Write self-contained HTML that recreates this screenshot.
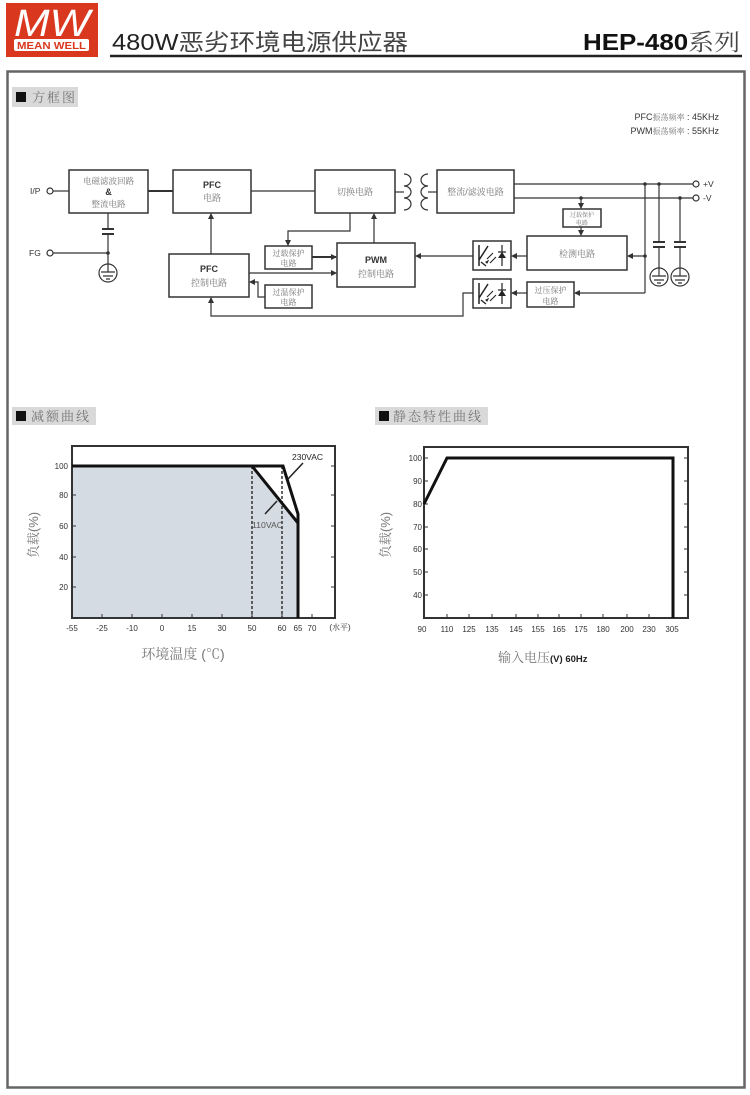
<!DOCTYPE html>
<html><head><meta charset="utf-8"><style>
html,body{margin:0;padding:0;background:#fff;}
svg{display:block;}
text{font-family:"Liberation Sans","Noto Sans CJK SC",sans-serif;}
.cj{font-family:"Liberation Sans","Noto Serif CJK SC",serif;fill:#777;}
.bx{fill:#fff;stroke:#333;stroke-width:1.5;}
.ln{stroke:#333;stroke-width:1.2;fill:none;}
.tk{stroke:#333;stroke-width:1;}
.ax{font-size:8px;fill:#333;text-anchor:middle;}
.ay{font-size:8px;fill:#333;text-anchor:end;}
</style></head><body>
<svg width="750" height="1095" viewBox="0 0 750 1095" xmlns="http://www.w3.org/2000/svg">
<defs>
<marker id="ar" markerWidth="6" markerHeight="6" refX="5" refY="3" orient="auto" markerUnits="userSpaceOnUse">
<path d="M0,0 L6,3 L0,6 z" fill="#333"/></marker>
</defs>
<!-- header -->
<rect x="6" y="3" width="92" height="54" fill="#d9381e"/>
<text x="52" y="36" font-size="38" font-style="italic" fill="#fff" text-anchor="middle" textLength="76" lengthAdjust="spacingAndGlyphs">MW</text>
<rect x="14" y="39" width="75" height="12" rx="2" fill="#fff"/>
<text x="51.5" y="49" font-size="10" font-weight="bold" fill="#d9381e" text-anchor="middle" textLength="69" lengthAdjust="spacingAndGlyphs">MEAN WELL</text>
<text x="112" y="50" font-size="23" fill="#222" textLength="296" lengthAdjust="spacingAndGlyphs">480W<tspan fill="#444" style="font-family:'Noto Sans CJK SC',sans-serif">恶劣环境电源供应器</tspan></text>
<text x="583" y="50" font-size="23" font-weight="bold" fill="#111" textLength="157" lengthAdjust="spacingAndGlyphs">HEP-480<tspan font-weight="normal" fill="#444" style="font-family:'Noto Serif CJK SC',serif">系列</tspan></text>
<line x1="110" y1="56" x2="742" y2="56" stroke="#222" stroke-width="2.5"/>
<!-- frame -->
<rect x="7.5" y="71.5" width="737" height="1016" fill="none" stroke="#666" stroke-width="2.5"/>

<!-- section label 1 -->
<rect x="12" y="87" width="66" height="20" fill="#d9d9d9"/>
<rect x="16" y="92" width="10" height="10" fill="#111"/>
<text x="32" y="102" font-size="13" class="cj" letter-spacing="2">方框图</text>

<text x="719" y="120" font-size="9" fill="#333" text-anchor="end">PFC<tspan class="cj" font-size="8">振荡频率</tspan> : 45KHz</text>
<text x="719" y="134" font-size="9" fill="#333" text-anchor="end">PWM<tspan class="cj" font-size="8">振荡频率</tspan> : 55KHz</text>

<!-- blocks -->
<rect class="bx" x="69" y="170" width="79" height="43"/>
<text x="108.5" y="184" font-size="8.5" class="cj" text-anchor="middle">电磁滤波回路</text>
<text x="108.5" y="195" font-size="9" font-weight="bold" fill="#333" text-anchor="middle">&amp;</text>
<text x="108.5" y="207" font-size="8.5" class="cj" text-anchor="middle">整流电路</text>

<rect class="bx" x="173" y="170" width="78" height="43"/>
<text x="212" y="188" font-size="9" font-weight="bold" fill="#333" text-anchor="middle">PFC</text>
<text x="212" y="201" font-size="9" class="cj" text-anchor="middle">电路</text>

<rect class="bx" x="315" y="170" width="80" height="43"/>
<text x="355" y="195" font-size="9" class="cj" text-anchor="middle">切换电路</text>

<rect class="bx" x="437" y="170" width="77" height="43"/>
<text x="475.5" y="195" font-size="9" class="cj" text-anchor="middle">整流/滤波电路</text>

<rect class="bx" x="169" y="254" width="80" height="43"/>
<text x="209" y="272" font-size="9" font-weight="bold" fill="#333" text-anchor="middle">PFC</text>
<text x="209" y="286" font-size="9" class="cj" text-anchor="middle">控制电路</text>

<rect class="bx" x="265" y="246" width="47" height="23"/>
<text x="288.5" y="256" font-size="8" class="cj" text-anchor="middle">过载保护</text>
<text x="288.5" y="266" font-size="8" class="cj" text-anchor="middle">电路</text>

<rect class="bx" x="265" y="285" width="47" height="23"/>
<text x="288.5" y="295" font-size="8" class="cj" text-anchor="middle">过温保护</text>
<text x="288.5" y="305" font-size="8" class="cj" text-anchor="middle">电路</text>

<rect class="bx" x="337" y="243" width="78" height="44"/>
<text x="376" y="263" font-size="9" font-weight="bold" fill="#333" text-anchor="middle">PWM</text>
<text x="376" y="277" font-size="9" class="cj" text-anchor="middle">控制电路</text>

<rect class="bx" x="563" y="209" width="38" height="18"/>
<text x="582" y="217" font-size="6" class="cj" text-anchor="middle">过载保护</text>
<text x="582" y="225" font-size="6" class="cj" text-anchor="middle">电路</text>

<rect class="bx" x="527" y="236" width="100" height="34"/>
<text x="577" y="257" font-size="9" class="cj" text-anchor="middle">检测电路</text>

<rect class="bx" x="527" y="282" width="47" height="25"/>
<text x="550.5" y="293" font-size="8" class="cj" text-anchor="middle">过压保护</text>
<text x="550.5" y="304" font-size="8" class="cj" text-anchor="middle">电路</text>

<!-- optocouplers -->
<g id="op1">
<rect class="bx" x="473" y="241" width="38" height="29"/>
<line x1="479" y1="245" x2="479" y2="266" stroke="#222" stroke-width="1.5"/>
<line x1="479" y1="260" x2="488" y2="246" stroke="#222" stroke-width="1.5"/>
<line x1="481" y1="262" x2="486" y2="266" stroke="#222" stroke-width="1.3"/>
<path d="M487,259 l6,-6 M486,262 l2,-1 l-1,2z M490,263 l6,-6" stroke="#222" stroke-width="1.1" fill="#222"/>
<line x1="502" y1="245" x2="502" y2="266" stroke="#222" stroke-width="1.2"/>
<path d="M498,258 L506,258 L502,252 z" fill="#222"/>
<line x1="498" y1="252" x2="506" y2="252" stroke="#222" stroke-width="1.2"/>
</g>
<use href="#op1" x="0" y="38"/>

<!-- wiring -->
<text x="30" y="194" font-size="8.5" fill="#333">I/P</text>
<circle cx="50" cy="191" r="3" fill="#fff" stroke="#333" stroke-width="1.2"/>
<line class="ln" x1="53" y1="191" x2="69" y2="191"/>
<text x="29" y="256" font-size="8.5" fill="#333">FG</text>
<circle cx="50" cy="253" r="3" fill="#fff" stroke="#333" stroke-width="1.2"/>
<line class="ln" x1="53" y1="253" x2="108" y2="253"/>
<circle cx="108" cy="253" r="1.8" fill="#333"/>
<line class="ln" x1="108" y1="213" x2="108" y2="229"/>
<line x1="102" y1="229" x2="114" y2="229" stroke="#333" stroke-width="2"/>
<line x1="102" y1="234" x2="114" y2="234" stroke="#333" stroke-width="2"/>
<line class="ln" x1="108" y1="234" x2="108" y2="272"/>
<circle cx="108" cy="273" r="9" fill="none" stroke="#333" stroke-width="1.2"/>
<path d="M101,272 h14 M103,276 h10 M106,279 h4" stroke="#333" stroke-width="1.2"/>

<line x1="148" y1="191" x2="173" y2="191" stroke="#333" stroke-width="2"/>
<line class="ln" x1="251" y1="191" x2="315" y2="191"/>
<line class="ln" x1="395" y1="192" x2="404" y2="192"/>
<!-- transformer -->
<path d="M404,174 a7,6 0 0 1 0,12 a7,6 0 0 1 0,12 a7,6 0 0 1 0,12" class="ln" stroke-width="1.6"/>
<path d="M428,174 a7,6 0 0 0 0,12 a7,6 0 0 0 0,12 a7,6 0 0 0 0,12" class="ln" stroke-width="1.6"/>
<line class="ln" x1="428" y1="192" x2="437" y2="192"/>

<line class="ln" x1="514" y1="184" x2="693" y2="184"/>
<line class="ln" x1="514" y1="198" x2="693" y2="198"/>
<circle cx="696" cy="184" r="3" fill="#fff" stroke="#333" stroke-width="1.2"/>
<circle cx="696" cy="198" r="3" fill="#fff" stroke="#333" stroke-width="1.2"/>
<text x="703" y="187" font-size="8.5" fill="#333">+V</text>
<text x="703" y="201" font-size="8.5" fill="#333">-V</text>
<circle cx="645" cy="184" r="1.8" fill="#333"/>
<circle cx="659" cy="184" r="1.8" fill="#333"/>
<circle cx="581" cy="198" r="1.8" fill="#333"/>
<circle cx="680" cy="198" r="1.8" fill="#333"/>

<line class="ln" x1="645" y1="184" x2="645" y2="293"/>
<circle cx="645" cy="256" r="1.8" fill="#333"/>
<line class="ln" x1="645" y1="256" x2="628" y2="256" marker-end="url(#ar)"/>
<line class="ln" x1="645" y1="293" x2="575" y2="293" marker-end="url(#ar)"/>

<line class="ln" x1="659" y1="184" x2="659" y2="242"/>
<line x1="653" y1="242" x2="665" y2="242" stroke="#333" stroke-width="2"/>
<line x1="653" y1="247" x2="665" y2="247" stroke="#333" stroke-width="2"/>
<line class="ln" x1="659" y1="247" x2="659" y2="276"/>
<circle cx="659" cy="277" r="9" fill="none" stroke="#333" stroke-width="1.2"/>
<path d="M652,276 h14 M654,280 h10 M657,283 h4" stroke="#333" stroke-width="1.2"/>

<line class="ln" x1="680" y1="198" x2="680" y2="242"/>
<line x1="674" y1="242" x2="686" y2="242" stroke="#333" stroke-width="2"/>
<line x1="674" y1="247" x2="686" y2="247" stroke="#333" stroke-width="2"/>
<line class="ln" x1="680" y1="247" x2="680" y2="276"/>
<circle cx="680" cy="277" r="9" fill="none" stroke="#333" stroke-width="1.2"/>
<path d="M673,276 h14 M675,280 h10 M678,283 h4" stroke="#333" stroke-width="1.2"/>

<line class="ln" x1="581" y1="198" x2="581" y2="208" marker-end="url(#ar)"/>
<line class="ln" x1="581" y1="227" x2="581" y2="235" marker-end="url(#ar)"/>

<line class="ln" x1="527" y1="256" x2="512" y2="256" marker-end="url(#ar)"/>
<line class="ln" x1="473" y1="256" x2="416" y2="256" marker-end="url(#ar)"/>
<line class="ln" x1="527" y1="293" x2="512" y2="293" marker-end="url(#ar)"/>
<polyline class="ln" points="473,293 463,293 463,316 211,316 211,298" marker-end="url(#ar)"/>

<line class="ln" x1="211" y1="254" x2="211" y2="214" stroke-width="1.5" marker-end="url(#ar)"/>
<polyline class="ln" points="350,213 350,231 288,231 288,245" marker-end="url(#ar)"/>
<line class="ln" x1="374" y1="243" x2="374" y2="214" stroke-width="1.5" marker-end="url(#ar)"/>
<line x1="312" y1="257" x2="336" y2="257" stroke="#333" stroke-width="2" marker-end="url(#ar)"/>
<line class="ln" x1="249" y1="273" x2="336" y2="273" stroke-width="1.5" marker-end="url(#ar)"/>
<polyline class="ln" points="265,297 258,297 258,282 250,282" marker-end="url(#ar)"/>

<!-- section labels 2,3 -->
<rect x="12" y="407" width="84" height="18" fill="#d9d9d9"/>
<rect x="16" y="411" width="10" height="10" fill="#111"/>
<text x="31" y="421" font-size="13" class="cj" letter-spacing="2">减额曲线</text>

<rect x="375" y="407" width="113" height="18" fill="#d9d9d9"/>
<rect x="379" y="411" width="10" height="10" fill="#111"/>
<text x="393" y="421" font-size="13" class="cj" letter-spacing="2">静态特性曲线</text>

<!-- chart 1 -->
<polygon points="73,466 252,466 298,523 298,617 73,617" fill="#d5dbe3"/>
<rect x="72" y="446" width="263" height="172" fill="none" stroke="#333" stroke-width="2"/>
<g class="tk">
<path d="M72,466 h4 M72,495 h4 M72,526 h4 M72,557 h4 M72,587 h4 M335,466 h-4 M335,495 h-4 M335,526 h-4 M335,557 h-4 M335,587 h-4"/>
<path d="M102,618 v-4 M132,618 v-4 M162,618 v-4 M192,618 v-4 M222,618 v-4 M252,618 v-4 M282,618 v-4 M312,618 v-4"/>
</g>
<line x1="252" y1="466" x2="252" y2="618" stroke="#333" stroke-width="1.5" stroke-dasharray="3,2"/>
<line x1="282" y1="466" x2="282" y2="618" stroke="#333" stroke-width="1.5" stroke-dasharray="3,2"/>
<polyline points="72,466 283,466 298,514 298,618" fill="none" stroke="#111" stroke-width="3"/>
<line x1="252" y1="466" x2="298" y2="523" stroke="#111" stroke-width="3"/>
<line x1="303" y1="463" x2="288" y2="479" stroke="#222" stroke-width="1.5"/>
<line x1="265" y1="514" x2="277" y2="501" stroke="#222" stroke-width="1.5"/>
<text x="292" y="460" font-size="8.5" fill="#222" textLength="31" lengthAdjust="spacingAndGlyphs">230VAC</text>
<text x="252" y="528" font-size="8.5" fill="#555" textLength="31" lengthAdjust="spacingAndGlyphs">110VAC</text>
<text class="ay" x="68" y="469">100</text>
<text class="ay" x="68" y="498">80</text>
<text class="ay" x="68" y="529">60</text>
<text class="ay" x="68" y="560">40</text>
<text class="ay" x="68" y="590">20</text>
<text class="ax" x="72" y="631">-55</text>
<text class="ax" x="102" y="631">-25</text>
<text class="ax" x="132" y="631">-10</text>
<text class="ax" x="162" y="631">0</text>
<text class="ax" x="192" y="631">15</text>
<text class="ax" x="222" y="631">30</text>
<text class="ax" x="252" y="631">50</text>
<text class="ax" x="282" y="631">60</text>
<text class="ax" x="298" y="631">65</text>
<text class="ax" x="312" y="631">70</text>
<text class="ax cj" x="340" y="630" font-size="7">(水平)</text>
<text class="cj" font-size="13" text-anchor="middle" transform="translate(38,535) rotate(-90)">负载(%)</text>
<text class="cj" x="183" y="659" font-size="14" text-anchor="middle">环境温度 (℃)</text>

<!-- chart 2 -->
<rect x="424" y="447" width="264" height="171" fill="none" stroke="#333" stroke-width="2"/>
<g class="tk">
<path d="M424,458 h4 M424,481 h4 M424,504 h4 M424,527 h4 M424,549 h4 M424,572 h4 M424,595 h4 M688,458 h-4 M688,481 h-4 M688,504 h-4 M688,527 h-4 M688,549 h-4 M688,572 h-4 M688,595 h-4"/>
<path d="M447,618 v-4 M469,618 v-4 M492,618 v-4 M516,618 v-4 M538,618 v-4 M559,618 v-4 M581,618 v-4 M603,618 v-4 M627,618 v-4 M649,618 v-4"/>
</g>
<polyline points="424,504 447,458 673,458 673,618" fill="none" stroke="#111" stroke-width="3"/>
<text class="ay" x="422" y="461">100</text>
<text class="ay" x="422" y="484">90</text>
<text class="ay" x="422" y="507">80</text>
<text class="ay" x="422" y="530">70</text>
<text class="ay" x="422" y="552">60</text>
<text class="ay" x="422" y="575">50</text>
<text class="ay" x="422" y="598">40</text>
<text class="ax" x="422" y="632">90</text>
<text class="ax" x="447" y="632">110</text>
<text class="ax" x="469" y="632">125</text>
<text class="ax" x="492" y="632">135</text>
<text class="ax" x="516" y="632">145</text>
<text class="ax" x="538" y="632">155</text>
<text class="ax" x="559" y="632">165</text>
<text class="ax" x="581" y="632">175</text>
<text class="ax" x="603" y="632">180</text>
<text class="ax" x="627" y="632">200</text>
<text class="ax" x="649" y="632">230</text>
<text class="ax" x="672" y="632">305</text>
<text class="cj" font-size="13" text-anchor="middle" transform="translate(390,535) rotate(-90)">负载(%)</text>
<text x="498" y="662" font-size="13" class="cj">输入电压<tspan font-size="9.5" font-weight="bold" fill="#222" style="font-family:'Liberation Sans',sans-serif">(V) 60Hz</tspan></text>
</svg>
</body></html>
